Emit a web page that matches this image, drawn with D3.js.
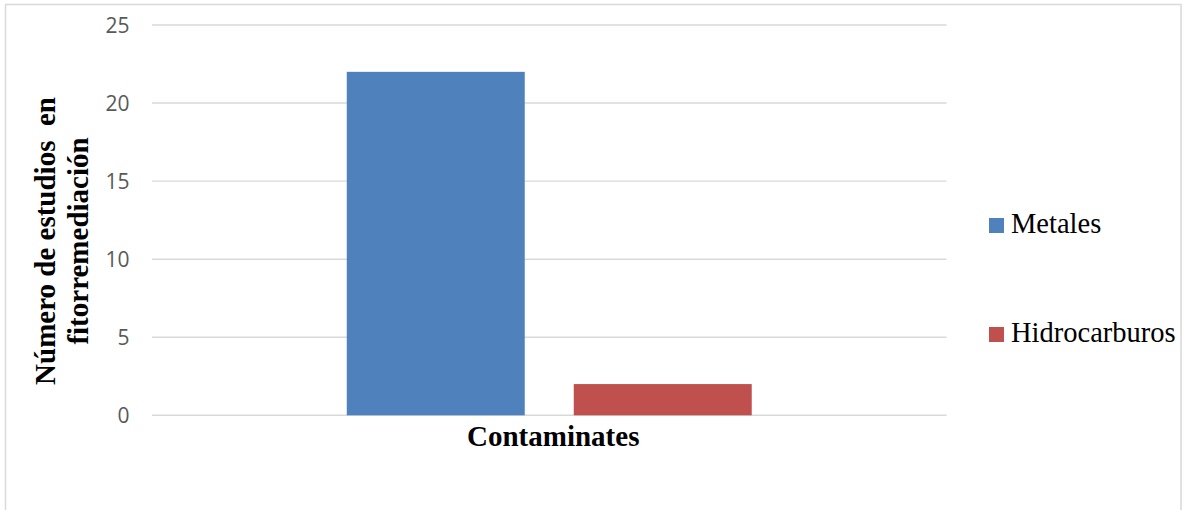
<!DOCTYPE html>
<html>
<head>
<meta charset="utf-8">
<script src="https://cdn.jsdelivr.net/npm/d3@7"></script>
<style>
  html, body { margin: 0; padding: 0; background: #fff; }
  svg { display: block; }
</style>
</head>
<body>
<svg id="chart" width="1187" height="510"></svg>
<script>
const categories = ["Contaminates"];
const seriesNames = ["Metales", "Hidrocarburos"];
const metales = [22];
const hidrocarburos = [2];
const yTicks = [0, 5, 10, 15, 20, 25];
const yTitleLines = ["Número de estudios  en", "fitorremediación"];
const colors = ["#4f81bd", "#c0504d"];

const seriesValues = [metales, hidrocarburos];
const svg = d3.select("#chart");

// outer chart border
svg.append("rect")
  .attr("x", 5.5).attr("y", 4.5)
  .attr("width", 1175.5).attr("height", 520)
  .attr("fill", "none").attr("stroke", "#d9d9d9").attr("stroke-width", 1.5);

const plot = { left: 152, right: 946.5, top: 25, bottom: 415.3 };

const y = d3.scaleLinear().domain([0, 25]).range([plot.bottom, plot.top]);
const x0 = d3.scaleBand().domain(categories).range([plot.left, plot.right]).padding(0);
const x1 = d3.scaleBand().domain(seriesNames).range([0, x0.bandwidth()])
  .paddingInner(0.2159).paddingOuter(0.858);

// gridlines
svg.append("g").selectAll("line").data(yTicks).join("line")
  .attr("x1", plot.left).attr("x2", plot.right)
  .attr("y1", d => y(d)).attr("y2", d => y(d))
  .attr("stroke", "#d9d9d9").attr("stroke-width", 1.4);

// y tick labels via axis
const yAxis = d3.axisLeft(y).tickValues(yTicks).tickSize(0).tickPadding(0).tickFormat(d3.format("d"));
const ga = svg.append("g").attr("transform", `translate(129.5,0)`).call(yAxis);
ga.select(".domain").remove();
ga.selectAll("text")
  .attr("font-family", "'Open Sans', sans-serif")
  .attr("font-size", 21)
  .attr("fill", "#595959")
  .attr("dy", "0.36em");

// bars
const groups = svg.append("g").selectAll("g").data(categories).join("g")
  .attr("transform", d => `translate(${x0(d)},0)`);
groups.selectAll("rect")
  .data((d, i) => seriesNames.map((s, j) => ({ s, v: seriesValues[j][i], c: colors[j] })))
  .join("rect")
  .attr("x", d => x1(d.s))
  .attr("width", x1.bandwidth())
  .attr("y", d => y(d.v))
  .attr("height", d => y(0) - y(d.v))
  .attr("fill", d => d.c);

// x axis category label
svg.append("g").selectAll("text").data(categories).join("text")
  .attr("x", d => x0(d) + x0.bandwidth() / 2 + 4)
  .attr("y", 446)
  .attr("text-anchor", "middle")
  .attr("font-family", "'Liberation Serif', 'Times New Roman', serif")
  .attr("font-weight", "bold")
  .attr("font-size", 29)
  .attr("fill", "#000")
  .text(d => d);

// y axis title
const yt = svg.append("text")
  .attr("transform", "translate(55,241) rotate(-90)")
  .attr("text-anchor", "middle")
  .attr("font-family", "'Liberation Serif', 'Times New Roman', serif")
  .attr("font-weight", "bold")
  .attr("font-size", 29)
  .attr("fill", "#000")
  .style("white-space", "pre");
yt.selectAll("tspan").data(yTitleLines).join("tspan")
  .attr("x", 0)
  .attr("y", (d, i) => i * 33)
  .text(d => d);

// legend
const legendY = [233, 342];
const lg = svg.append("g").selectAll("g").data(seriesNames).join("g")
  .attr("transform", (d, i) => `translate(989,${legendY[i]})`);
lg.append("rect")
  .attr("x", 0).attr("y", -15)
  .attr("width", 15).attr("height", 15)
  .attr("fill", (d, i) => colors[i]);
lg.append("text")
  .attr("x", 22).attr("y", 0)
  .attr("font-family", "'Liberation Serif', 'Times New Roman', serif")
  .attr("font-size", 28.5)
  .attr("fill", "#000")
  .text(d => d);
</script>
</body>
</html>
